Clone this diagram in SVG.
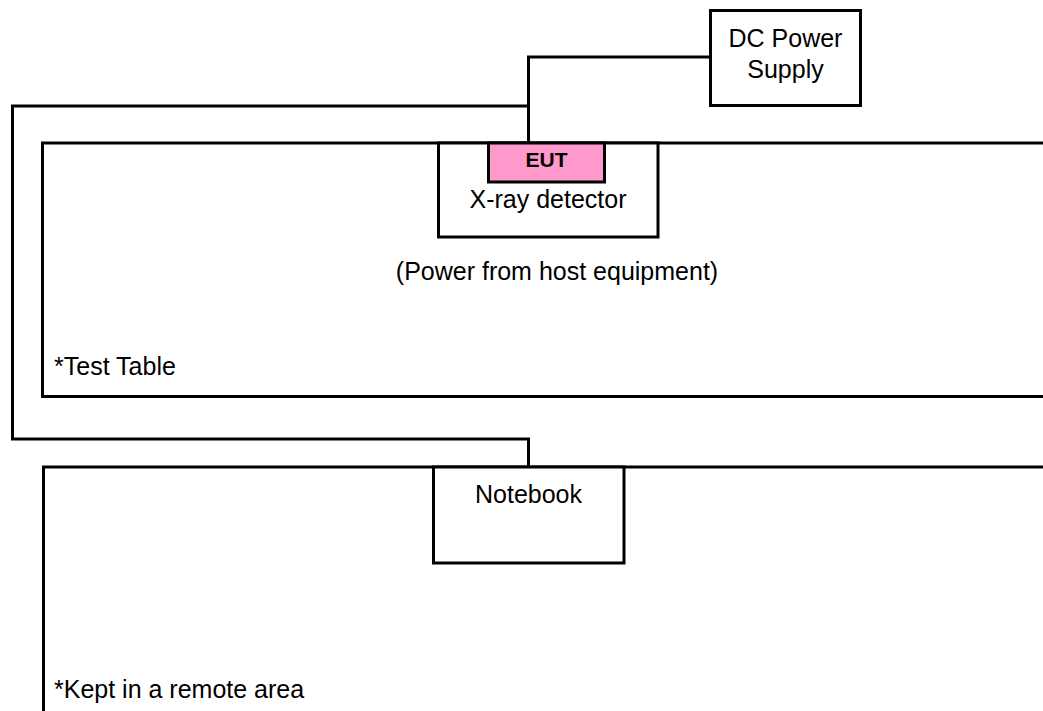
<svg xmlns="http://www.w3.org/2000/svg" width="1043" height="711" viewBox="0 0 1043 711">
<style>
.ln{fill:none;stroke:#000;stroke-width:3}
.bx{fill:#fff;stroke:#000;stroke-width:3}
.t{font-family:"Liberation Sans",Arial,sans-serif;font-size:25px;fill:#000}
.b{font-family:"Liberation Sans",Arial,sans-serif;font-size:21px;font-weight:bold;fill:#000}
</style>
<rect width="1043" height="711" fill="#fff"/>
<g id="connectors">
<polyline class="ln" points="710,57 528.5,57 528.5,143"/>
<polyline class="ln" points="528.5,106 12.5,106 12.5,439 528.5,439 528.5,467"/>
</g>
<g id="test-table">
<rect class="bx" x="42.5" y="143" width="1010" height="253.5"/>
<text class="t" x="54" y="375">*Test Table</text>
<text class="t" x="557" y="280" text-anchor="middle">(Power from host equipment)</text>
</g>
<g id="remote-area">
<rect class="bx" x="43.5" y="467" width="1010" height="260"/>
<text class="t" x="54" y="698">*Kept in a remote area</text>
</g>
<g id="dc-power">
<rect class="bx" x="710.5" y="10.5" width="150" height="95"/>
<text class="t" x="785.5" y="47" text-anchor="middle">DC Power</text>
<text class="t" x="785.5" y="78" text-anchor="middle">Supply</text>
</g>
<g id="xray">
<rect class="bx" x="438.5" y="143" width="219.5" height="94"/>
<text class="t" x="548" y="208" text-anchor="middle">X-ray detector</text>
</g>
<g id="eut">
<rect x="488.5" y="143" width="116" height="39" fill="#ff99cc" stroke="#000" stroke-width="3"/>
<text class="b" x="546.5" y="167" text-anchor="middle">EUT</text>
</g>
<g id="notebook">
<rect class="bx" x="433.5" y="467" width="190.5" height="96"/>
<text class="t" x="528.5" y="503" text-anchor="middle">Notebook</text>
</g>
</svg>
